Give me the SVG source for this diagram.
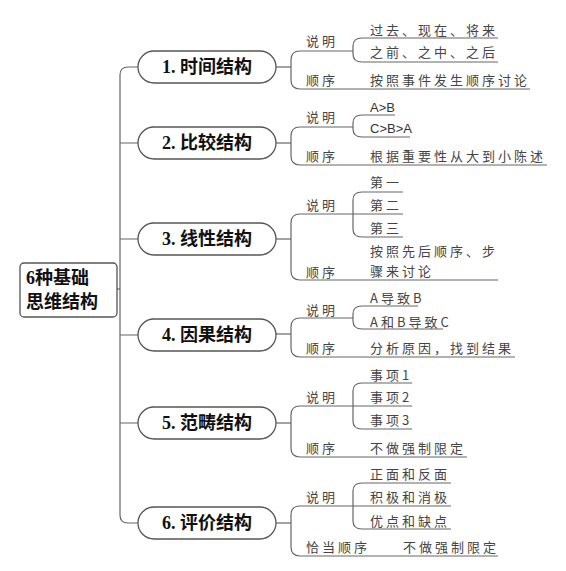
<svg xmlns="http://www.w3.org/2000/svg" width="566" height="571" viewBox="0 0 566 571">
<style>
.ln{fill:none;stroke:#666;stroke-width:1.2}
.box{fill:#fff;stroke:#555;stroke-width:1.3}
.nt{font-family:"Liberation Serif","Noto Sans CJK SC",serif;font-weight:bold;font-size:18px;fill:#111}
.lf{font-family:"Noto Sans CJK SC",sans-serif;font-size:13px;fill:#444;letter-spacing:3px}
.lt{font-family:"Liberation Sans","Noto Sans CJK SC",sans-serif;font-size:13px;fill:#333}
</style>
<rect width="566" height="571" fill="#fff"/>
<g id="connectors">
<path class="ln" d="M117,289 H120"/>
<path class="ln" d="M138,67 H128 Q120,67 120,75 V515 Q120,523 128,523 H138"/>
<path class="ln" d="M120,143 H138 M120,239 H138 M120,335 H138 M120,423 H138"/>
<path class="ln" d="M276,67 H291"/>
<path class="ln" d="M353,51 H300 Q291,51 291,60 V80 Q291,89 300,89 H530"/>
<path class="ln" d="M498,38 H362 Q353,38 353,46 V54 Q353,62 362,62 H498"/>
<path class="ln" d="M276,143 H291"/>
<path class="ln" d="M353,127 H300 Q291,127 291,136 V156 Q291,165 300,165 H547"/>
<path class="ln" d="M395,115 H362 Q353,115 353,123 V129 Q353,137 362,137 H410"/>
<path class="ln" d="M276,239 H291"/>
<path class="ln" d="M403,214 H300 Q291,214 291,223 V271 Q291,280 300,280 H498"/>
<path class="ln" d="M403,192 H362 Q353,192 353,200 V229 Q353,237 362,237 H403"/>
<path class="ln" d="M276,334 H291"/>
<path class="ln" d="M353,318 H300 Q291,318 291,327 V348 Q291,357 300,357 H515"/>
<path class="ln" d="M418,306 H362 Q353,306 353,314 V321 Q353,329 362,329 H443"/>
<path class="ln" d="M276,423 H291"/>
<path class="ln" d="M412,406 H300 Q291,406 291,415 V448 Q291,457 300,457 H467"/>
<path class="ln" d="M412,383 H362 Q353,383 353,391 V421 Q353,429 362,429 H412"/>
<path class="ln" d="M276,523 H291"/>
<path class="ln" d="M451,506 H300 Q291,506 291,515 V547 Q291,556 300,556 H498"/>
<path class="ln" d="M451,483 H362 Q353,483 353,491 V521 Q353,529 362,529 H451"/>
</g>
<g id="root">
<rect class="box" x="20" y="263" width="97" height="54" rx="4"/>
<text class="nt" x="26" y="284">6种基础</text>
<text class="nt" x="26" y="308">思维结构</text>
</g>
<g id="n1">
<rect class="box" x="138" y="51" width="138" height="32" rx="16"/>
<text class="nt" x="207" y="73" text-anchor="middle">1. 时间结构</text>
</g>
<g id="n2">
<rect class="box" x="138" y="127" width="138" height="32" rx="16"/>
<text class="nt" x="207" y="149" text-anchor="middle">2. 比较结构</text>
</g>
<g id="n3">
<rect class="box" x="138" y="223" width="138" height="32" rx="16"/>
<text class="nt" x="207" y="245" text-anchor="middle">3. 线性结构</text>
</g>
<g id="n4">
<rect class="box" x="138" y="319" width="138" height="32" rx="16"/>
<text class="nt" x="207" y="341" text-anchor="middle">4. 因果结构</text>
</g>
<g id="n5">
<rect class="box" x="138" y="407" width="138" height="32" rx="16"/>
<text class="nt" x="207" y="429" text-anchor="middle">5. 范畴结构</text>
</g>
<g id="n6">
<rect class="box" x="138" y="507" width="138" height="32" rx="16"/>
<text class="nt" x="207" y="529" text-anchor="middle">6. 评价结构</text>
</g>
<g id="b1">
<text class="lf" x="306" y="46">说明</text>
<text class="lf" x="370" y="35">过去、现在、将来</text>
<text class="lf" x="370" y="57">之前、之中、之后</text>
<text class="lf" x="306" y="85">顺序</text>
<text class="lf" x="370" y="85">按照事件发生顺序讨论</text>
</g>
<g id="b2">
<text class="lf" x="306" y="122">说明</text>
<text class="lt" x="370" y="112">A&gt;B</text>
<text class="lt" x="370" y="133">C&gt;B&gt;A</text>
<text class="lf" x="306" y="161">顺序</text>
<text class="lf" x="370" y="161">根据重要性从大到小陈述</text>
</g>
<g id="b3">
<text class="lf" x="370" y="187">第一</text>
<text class="lf" x="306" y="210">说明</text>
<text class="lf" x="370" y="210">第二</text>
<text class="lf" x="370" y="233">第三</text>
<text class="lf" x="370" y="256">按照先后顺序、步</text>
<text class="lf" x="370" y="276">骤来讨论</text>
<text class="lf" x="306" y="277">顺序</text>
</g>
<g id="b4">
<text class="lf" x="370" y="303">A导致B</text>
<text class="lf" x="306" y="315">说明</text>
<text class="lf" x="370" y="327">A和B导致C</text>
<text class="lf" x="306" y="353">顺序</text>
<text class="lf" x="370" y="353">分析原因，找到结果</text>
</g>
<g id="b5">
<text class="lf" x="370" y="380">事项1</text>
<text class="lf" x="306" y="402">说明</text>
<text class="lf" x="370" y="402">事项2</text>
<text class="lf" x="370" y="425">事项3</text>
<text class="lf" x="306" y="453">顺序</text>
<text class="lf" x="370" y="453">不做强制限定</text>
</g>
<g id="b6">
<text class="lf" x="370" y="479">正面和反面</text>
<text class="lf" x="306" y="502">说明</text>
<text class="lf" x="370" y="502">积极和消极</text>
<text class="lf" x="370" y="526">优点和缺点</text>
<text class="lf" x="306" y="552">恰当顺序</text>
<text class="lf" x="403" y="552">不做强制限定</text>
</g>
</svg>
